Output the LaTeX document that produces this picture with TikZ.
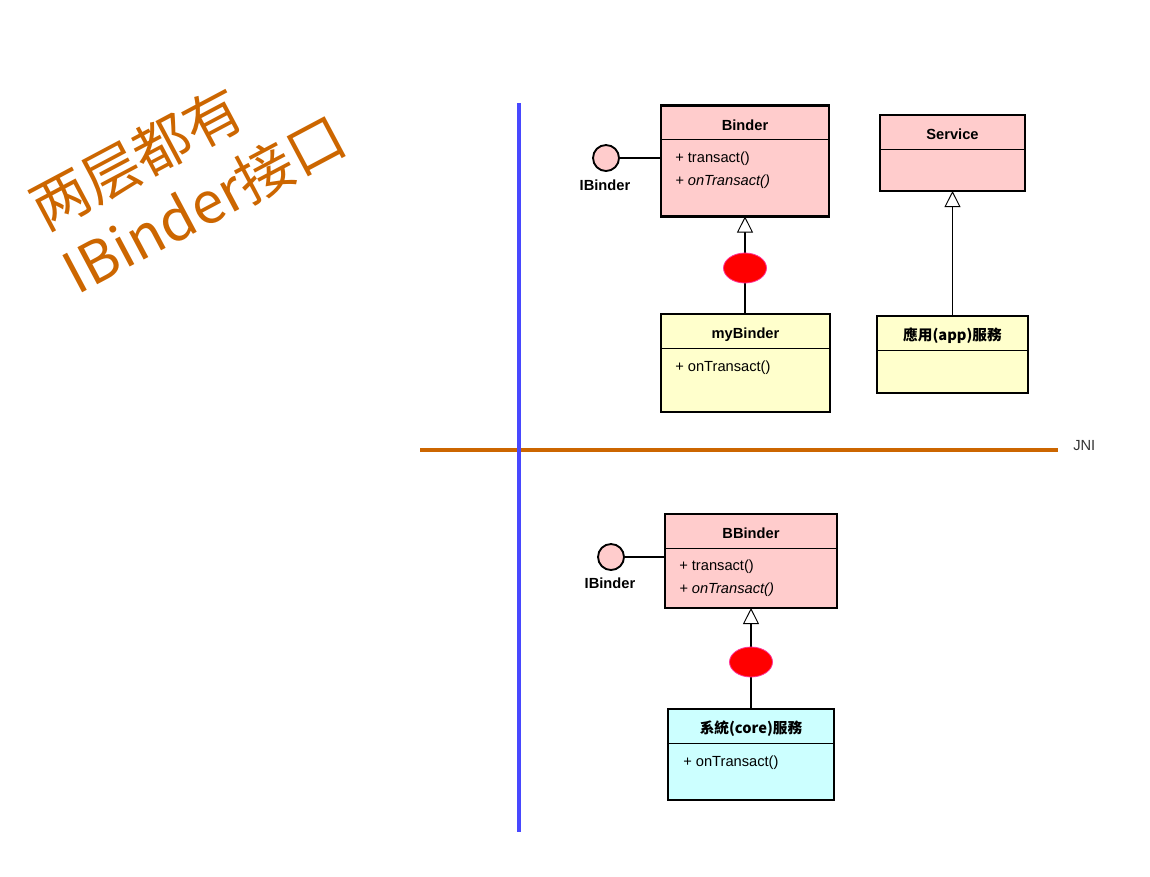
\documentclass[tikz,border=0pt]{standalone}
\usepackage{fontspec}
\setmainfont{Liberation Sans}
\newfontfamily\cjksc{Noto Sans CJK SC}
\newfontfamily\cjktc{Noto Sans CJK TC}
\usepackage{tikz}
\usetikzlibrary{arrows.meta}
\usetikzlibrary{fit}
\usetikzlibrary{positioning}
\usetikzlibrary{shapes.geometric}

\definecolor{pinkfill}{HTML}{FFCCCC}
\definecolor{yellowfill}{HTML}{FFFFCC}
\definecolor{cyanfill}{HTML}{CCFFFF}
\definecolor{titleorange}{HTML}{CC6600}
\definecolor{layerblue}{HTML}{4848FF}
\definecolor{ballrim}{HTML}{FF3399}

\tikzset{
  head/.style={draw,line width=0.6pt,outer sep=0pt,inner sep=0pt,minimum height=34*0.75pt,
    text height=2.2ex,text depth=0pt,font=\fontsize{11}{13}\selectfont\bfseries},
  body/.style={draw,line width=0.6pt,outer sep=0pt,inner sep=0pt},
  frame/.style={draw,line width=2pt,inner sep=0pt,outer sep=0pt},
  ops/.style={anchor=north west,inner sep=0pt,align=left,
    font=\fontsize{11}{17}\selectfont},
  iface/.style={circle,draw,line width=1.4pt,fill=pinkfill,minimum size=26*0.75pt,inner sep=0pt},
  ifacelabel/.style={font=\fontsize{11}{13}\selectfont\bfseries,inner sep=0pt},
  ball/.style={ellipse,draw=ballrim,line width=0.6pt,fill=red,minimum width=43*0.75pt,
    minimum height=30*0.75pt,inner sep=0pt},
  inherit/.style={line width=1.1pt,-{Triangle[length=12pt,width=12pt,fill=white,line width=0.7pt]}},
  title/.style={font=\cjksc\fontsize{43}{50}\selectfont,text=titleorange,rotate=28,
    anchor=south west,inner sep=0pt}
}

\begin{document}
\begin{tikzpicture}[x=0.75pt,y=-0.75pt]

  \useasboundingbox (0,0) rectangle (1150,876);

  % title
  \node [title] (titleA) at (48,236) {两层都有};
  \node [title] (titleB) at (80,300) {IBinder接口};

  % layers
  \coordinate (jniL) at (420,450);
  \coordinate (jniR) at (1058,450);
  \draw [titleorange,line width=2.4pt] (jniL) -- (jniR);
  \node [anchor=west,font=\fontsize{11}{13}\selectfont,text=black!80,inner sep=0pt] (jni) at (1073,446) {JNI};
  \coordinate (layerT) at (519,103);
  \coordinate (layerB) at (519,832);
  \draw [layerblue,line width=2.4pt] (layerT) -- (layerB);

  % upper layer
  \node [head,fill=pinkfill,minimum width=168*0.75pt] (binderH) at (745,122.5) {Binder};
  \node [body,fill=pinkfill,minimum width=168*0.75pt,minimum height=77*0.75pt,below=0pt of binderH] (binderB) {};
  \node [frame,fit=(binderH) (binderB)] (binder) {};
  \node [ops] (binderOps) at (675,152) {+ transact()\\\textit{+ onTransact()}};

  \node [iface] (ibinderA) at (606,158) {};
  \node [ifacelabel] (ibinderAL) at (605,185) {IBinder};
  \draw [line width=1pt] (ibinderA) -- (ibinderA -| binder.west);

  \node [head,fill=yellowfill,minimum width=169*0.75pt] (mybinderH) at (745.5,331) {myBinder};
  \node [body,fill=yellowfill,minimum width=169*0.75pt,minimum height=64*0.75pt,below=0pt of mybinderH] (mybinderB) {};
  \node [frame,fit=(mybinderH) (mybinderB)] (mybinder) {};
  \node [ops] (mybinderOps) at (675,361) {+ onTransact()};

  \draw [inherit] (mybinder.north -| binder.south) -- (binder.south);
  \node [ball] (ballA) at (745,268) {};

  \node [head,fill=pinkfill,minimum width=145*0.75pt] (serviceH) at (952.5,132) {Service};
  \node [body,fill=pinkfill,minimum width=145*0.75pt,minimum height=42*0.75pt,below=0pt of serviceH] (serviceB) {};
  \node [frame,fit=(serviceH) (serviceB)] (service) {};

  \node [head,fill=yellowfill,minimum width=151*0.75pt,font=\cjktc\fontsize{11}{13}\selectfont\bfseries] (appsvcH) at (952.5,333) {應用(app)服務};
  \node [body,fill=yellowfill,minimum width=151*0.75pt,minimum height=43*0.75pt,below=0pt of appsvcH] (appsvcB) {};
  \node [frame,fit=(appsvcH) (appsvcB)] (appsvc) {};

  \draw [inherit] (appsvc.north -| service.south) -- (service.south);

  % lower layer
  \node [head,fill=pinkfill,minimum width=172*0.75pt] (bbinderH) at (751,531) {BBinder};
  \node [body,fill=pinkfill,minimum width=172*0.75pt,minimum height=60*0.75pt,below=0pt of bbinderH] (bbinderB) {};
  \node [frame,fit=(bbinderH) (bbinderB)] (bbinder) {};
  \node [ops] (bbinderOps) at (679,560) {+ transact()\\\textit{+ onTransact()}};

  \node [iface] (ibinderB) at (611,557) {};
  \node [ifacelabel] (ibinderBL) at (610,583) {IBinder};
  \draw [line width=1pt] (ibinderB) -- (ibinderB -| bbinder.west);

  \node [head,fill=cyanfill,minimum width=166*0.75pt,font=\cjktc\fontsize{11}{13}\selectfont\bfseries] (coresvcH) at (751,726) {系統(core)服務};
  \node [body,fill=cyanfill,minimum width=166*0.75pt,minimum height=57*0.75pt,below=0pt of coresvcH] (coresvcB) {};
  \node [frame,fit=(coresvcH) (coresvcB)] (coresvc) {};
  \node [ops] (coresvcOps) at (683,756) {+ onTransact()};

  \draw [inherit] (coresvc.north -| bbinder.south) -- (bbinder.south);
  \node [ball] (ballB) at (751,662) {};

\end{tikzpicture}
\end{document}
